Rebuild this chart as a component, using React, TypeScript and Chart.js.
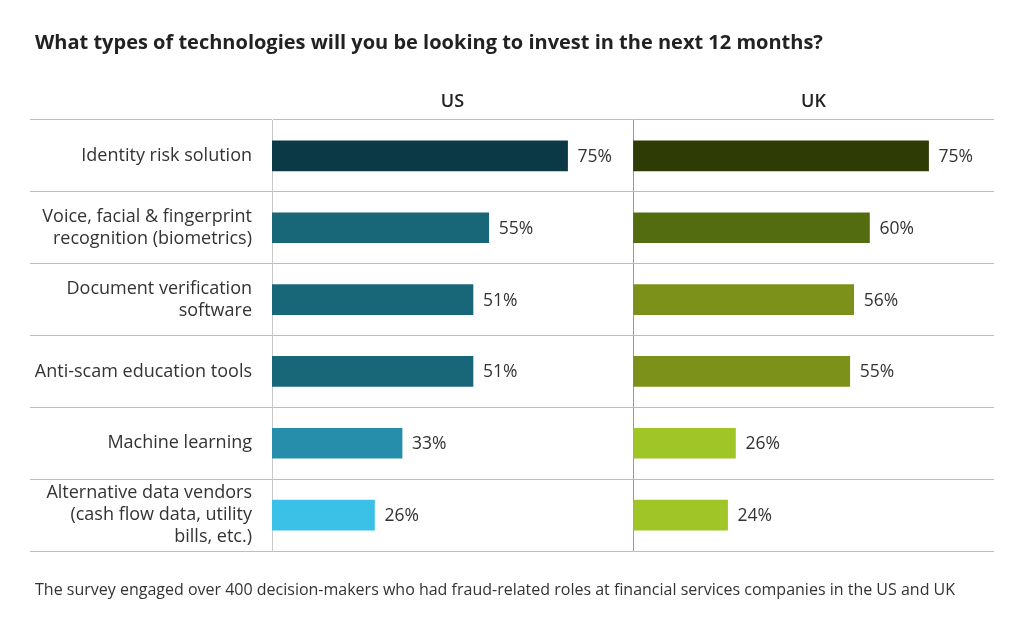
import React, { useEffect, useRef } from "react";
import { Chart, registerables } from "chart.js";

Chart.register(...registerables);

const chartTitle = "What types of technologies will you be looking to invest in the next 12 months?";
const footnote =
  "The survey engaged over 400 decision-makers who had fraud-related roles at financial services companies in the US and UK";
const panelTitles = ["US", "UK"];
const categories: string[][] = [
  ["Identity risk solution"],
  ["Voice, facial & fingerprint", "recognition (biometrics)"],
  ["Document verification", "software"],
  ["Anti-scam education tools"],
  ["Machine learning"],
  ["Alternative data vendors", "(cash flow data, utility", "bills, etc.)"],
];
const usValues = [75, 55, 51, 51, 33, 26];
const ukValues = [75, 60, 56, 55, 26, 24];
const usColors = ["#0b3a46", "#176779", "#176779", "#176779", "#268dab", "#3bc1e7"];
const ukColors = ["#2e3b05", "#546c10", "#7b9119", "#7b9119", "#9fc626", "#9fc626"];
const axisMax = 91.6;

const FONT = "'Open Sans', 'Noto Sans', sans-serif";

const valueLabels = {
  id: "valueLabels",
  afterDatasetsDraw(chart: any) {
    const ctx = chart.ctx;
    ctx.save();
    ctx.font = `17.5px ${FONT}`;
    ctx.fillStyle = "#333333";
    ctx.textAlign = "left";
    ctx.textBaseline = "middle";
    chart.data.datasets.forEach((ds: any, i: number) => {
      const meta = chart.getDatasetMeta(i);
      meta.data.forEach((el: any, j: number) => {
        ctx.fillText(`${ds.data[j]}%`, el.x + 10, el.y + 1);
      });
    });
    ctx.restore();
  },
};

export default function App() {
  const ref = useRef<HTMLCanvasElement | null>(null);
  useEffect(() => {
    if (!ref.current) return;
    const panelAxis = (text: string, showZero: boolean) => ({
      type: "linear" as const,
      position: "top" as const,
      stack: "panels",
      stackWeight: 1,
      min: 0,
      max: axisMax,
      ticks: { display: false },
      border: { display: false },
      grid: {
        display: showZero,
        drawTicks: false,
        color: (c: any) => (c.tick && c.tick.value === 0 ? "#9a9a9a" : "rgba(0,0,0,0)"),
      },
      title: {
        display: true,
        text,
        color: "#222222",
        font: { family: FONT, size: 18, weight: 600 as any, lineHeight: 1.2 },
        padding: { top: 1, bottom: 7.2 },
      },
    });
    const chart = new Chart(ref.current, {
      type: "bar",
      data: {
        labels: categories,
        datasets: [
          {
            label: panelTitles[0],
            data: usValues,
            backgroundColor: usColors,
            xAxisID: "x",
            grouped: false,
            barThickness: 30,
          } as any,
          {
            label: panelTitles[1],
            data: ukValues,
            backgroundColor: ukColors,
            xAxisID: "x2",
            grouped: false,
            barThickness: 30,
          } as any,
        ],
      },
      options: {
        indexAxis: "y",
        animation: false,
        responsive: true,
        maintainAspectRatio: false,
        layout: { padding: { left: 27, right: 22, top: 0, bottom: 0 } },
        plugins: {
          legend: { display: false },
          tooltip: { enabled: false },
          title: {
            display: true,
            text: chartTitle,
            align: "start",
            color: "#222222",
            font: { family: FONT, size: 20, weight: "bold", lineHeight: 1.2 },
            padding: { top: 23.5, bottom: 34.7 },
          },
          subtitle: {
            display: true,
            position: "bottom",
            text: footnote,
            align: "start",
            color: "#333333",
            font: { family: FONT, size: 16, lineHeight: 1.2 },
            padding: { top: 29.4, bottom: 23.4 },
          },
        },
        scales: {
          x2: panelAxis(panelTitles[1], true),
          x: panelAxis(panelTitles[0], false),
          y: {
            type: "category",
            position: "left",
            afterFit: (scale: any) => {
              scale.width = 237;
            },
            border: { display: true, color: "#c8c8c8", width: 1 },
            grid: {
              offset: true,
              color: "#bdbdbd",
              lineWidth: 1,
              drawTicks: true,
              tickLength: 242,
            },
            ticks: {
              autoSkip: false,
              padding: -222,
              color: "#333333",
              font: { family: FONT, size: 18, lineHeight: 1.22 },
            },
          },
        } as any,
      },
      plugins: [valueLabels],
    });
    return () => chart.destroy();
  }, []);
  return (
    <div style={{ position: "relative", width: "100%", height: 615 }}>
      <canvas ref={ref} />
    </div>
  );
}
